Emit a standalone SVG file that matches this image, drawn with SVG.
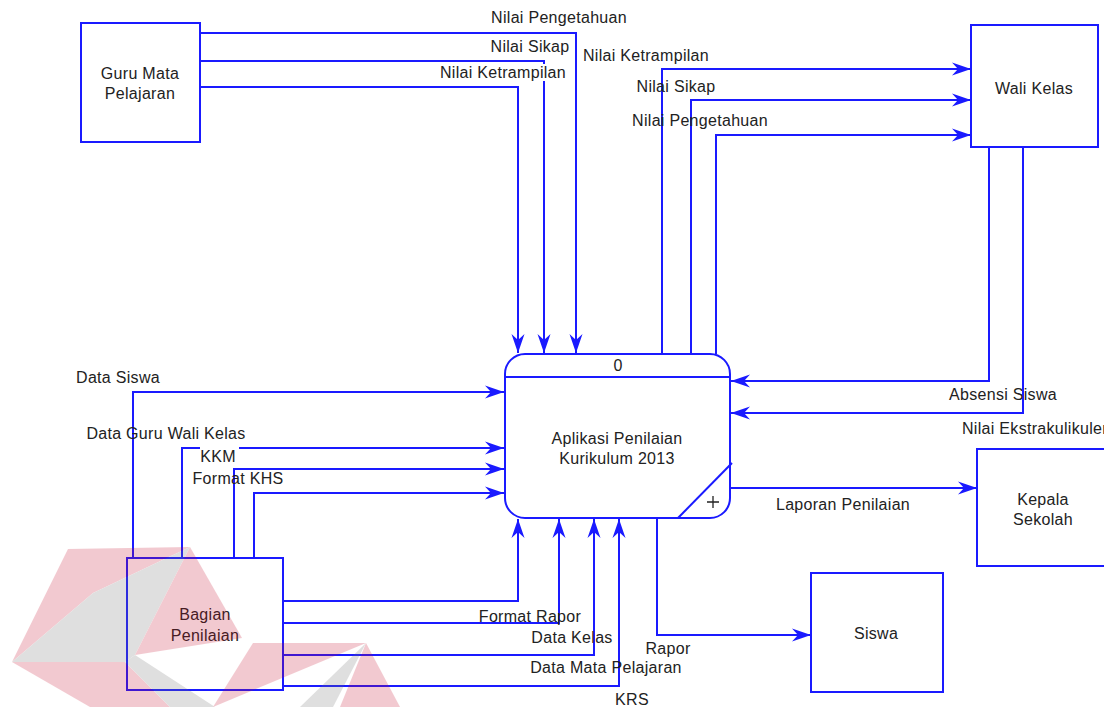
<svg xmlns="http://www.w3.org/2000/svg" width="1104" height="707" viewBox="0 0 1104 707">
  <style>
    .box { fill: none; stroke: #1a1aff; stroke-width: 2; }
    .flow { fill: none; stroke: #1a1aff; stroke-width: 2; marker-end: url(#arrow); }
    .lbl { font-family: "Liberation Sans", Arial, sans-serif; font-size: 16px; fill: #222; letter-spacing: 0.3px; }
    .c { text-anchor: middle; }
    .bg { fill: #fff; }
  </style>
  <defs>
    <marker id="arrow" markerUnits="userSpaceOnUse" markerWidth="20" markerHeight="14" viewBox="-19 -7 20 14" refX="0" refY="0" orient="auto">
      <path d="M0,0 L-19,-6.5 L-13,0 L-19,6.5 Z" fill="#1a1aff"/>
    </marker>
  </defs>

  <rect width="1104" height="707" fill="#fff"/>

  <!-- data flows -->
  <g id="connectors">
    <!-- Guru Mata Pelajaran to process -->
    <path class="flow" d="M200,33 H576 V353"/>
    <path class="flow" d="M200,61 H544 V353"/>
    <path class="flow" d="M200,87 H518 V353"/>
    <!-- process to Wali Kelas -->
    <path class="flow" d="M662,354 V69 H971"/>
    <path class="flow" d="M691,354 V100 H971"/>
    <path class="flow" d="M716,354 V135 H971"/>
    <!-- Wali Kelas to process -->
    <path class="flow" d="M989,147 V381 H731"/>
    <path class="flow" d="M1023,147 V413 H731"/>
    <!-- process to Kepala Sekolah and Siswa -->
    <path class="flow" d="M730,488 H977"/>
    <path class="flow" d="M657,518 V635 H811"/>
    <!-- Bagian Penilaian to process, left side -->
    <path class="flow" d="M133,558 V392 H504"/>
    <path class="flow" d="M182,558 V448 H504"/>
    <path class="flow" d="M234,558 V469 H504"/>
    <path class="flow" d="M254,558 V493 H504"/>
    <!-- Bagian Penilaian to process, bottom side -->
    <path class="flow" d="M283,601 H518 V519"/>
    <path class="flow" d="M283,623 H559 V519"/>
    <path class="flow" d="M283,655 H594 V519"/>
    <path class="flow" d="M283,686 H619 V519"/>
  </g>

  <!-- flow labels -->
  <g id="flow-labels">
    <text class="lbl c" x="559" y="23">Nilai Pengetahuan</text>
    <text class="lbl c" x="530" y="52">Nilai Sikap</text>
    <rect class="bg" x="438" y="64" width="130" height="17"/>
    <text class="lbl c" x="503" y="78">Nilai Ketrampilan</text>
    <text class="lbl c" x="646" y="61">Nilai Ketrampilan</text>
    <text class="lbl c" x="676" y="92">Nilai Sikap</text>
    <text class="lbl c" x="700" y="126">Nilai Pengetahuan</text>
    <text class="lbl c" x="1003" y="400">Absensi Siswa</text>
    <text class="lbl" x="962" y="434">Nilai Ekstrakulikuler</text>
    <text class="lbl c" x="843" y="510">Laporan Penilaian</text>
    <text class="lbl c" x="118" y="383">Data Siswa</text>
    <text class="lbl c" x="166" y="439">Data Guru Wali Kelas</text>
    <rect class="bg" x="200" y="444" width="39" height="10"/>
    <text class="lbl c" x="218" y="462">KKM</text>
    <text class="lbl c" x="238" y="484">Format KHS</text>
    <text class="lbl c" x="530" y="622">Format Rapor</text>
    <text class="lbl c" x="572" y="643">Data Kelas</text>
    <text class="lbl c" x="668" y="654">Rapor</text>
    <text class="lbl c" x="606" y="673">Data Mata Pelajaran</text>
    <text class="lbl c" x="632" y="705">KRS</text>
  </g>

  <!-- external entities -->
  <g id="guru-mata-pelajaran">
    <rect class="box" x="81" y="23" width="119" height="119"/>
    <text class="lbl c" x="140" y="79">Guru Mata</text>
    <text class="lbl c" x="140" y="99">Pelajaran</text>
  </g>
  <g id="wali-kelas">
    <rect class="box" x="971" y="25" width="127" height="122"/>
    <text class="lbl c" x="1034" y="94">Wali Kelas</text>
  </g>
  <g id="kepala-sekolah">
    <rect class="box" x="977" y="449" width="135" height="117"/>
    <text class="lbl c" x="1043" y="505">Kepala</text>
    <text class="lbl c" x="1043" y="525">Sekolah</text>
  </g>
  <g id="siswa">
    <rect class="box" x="811" y="573" width="132" height="119"/>
    <text class="lbl c" x="876" y="639">Siswa</text>
  </g>
  <g id="bagian-penilaian">
    <rect class="box" x="127" y="558" width="156" height="132"/>
    <text class="lbl c" x="205" y="620">Bagian</text>
    <text class="lbl c" x="205" y="641">Penilaian</text>
  </g>

  <!-- process 0 -->
  <g id="process-0">
    <rect class="box" x="505" y="354" width="225" height="164" rx="20" ry="20"/>
    <line class="box" x1="505" y1="377" x2="730" y2="377"/>
    <line class="box" x1="678" y1="518" x2="732" y2="463"/>
    <path d="M713,496 V508 M707,502 H719" stroke="#222" stroke-width="1.3" fill="none"/>
    <text class="lbl c" x="618" y="371">0</text>
    <text class="lbl c" x="617" y="444">Aplikasi Penilaian</text>
    <text class="lbl c" x="617" y="464">Kurikulum 2013</text>
  </g>

  <!-- faint logo watermark in the lower left corner -->
  <g id="watermark" opacity="0.22">
    <polygon points="68,549 190,547 93,593 12,662" fill="#c8102e"/>
    <polygon points="12,662 93,593 190,547 135,655 125,662" fill="#707070"/>
    <polygon points="190,547 242,638 135,655" fill="#c8102e"/>
    <polygon points="12,662 125,662 170,707 90,707" fill="#c8102e"/>
    <polygon points="125,662 135,655 215,707 170,707" fill="#707070"/>
    <polygon points="253,643 366,643 213,707" fill="#c8102e"/>
    <polygon points="366,643 333,707 300,707" fill="#707070"/>
    <polygon points="366,643 400,707 340,707" fill="#c8102e"/>
  </g>
</svg>
